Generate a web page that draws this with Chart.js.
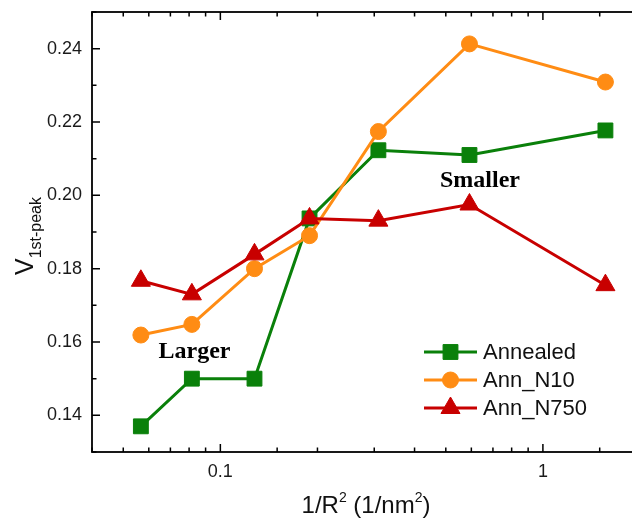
<!DOCTYPE html>
<html>
<head>
<meta charset="utf-8">
<script src="https://cdn.jsdelivr.net/npm/chart.js@4.4.1/dist/chart.umd.min.js"></script>
<style>
html, body { margin: 0; padding: 0; background: #fff; overflow: hidden; }
#wrap { width: 660px; height: 522px; }
</style>
</head>
<body>
<div id="wrap"><canvas id="chart" width="660" height="522"></canvas></div>
<script>
// data: x = 1/R^2 (1/nm^2)
var invR2    = [0.0567, 0.0816, 0.1276, 0.189, 0.309, 0.592, 1.5625];
var annealed = [0.1370, 0.1500, 0.1500, 0.1937, 0.2123, 0.2110, 0.2177];
var annN10   = [0.1619, 0.1648, 0.1800, 0.1890, 0.2174, 0.2413, 0.2309];
var annN750  = [0.1767, 0.1730, 0.1839, 0.1937, 0.1931, 0.1975, 0.1755];
var seriesNames  = ['Annealed', 'Ann_N10', 'Ann_N750'];
var seriesColors = ['#0a800a', '#ff8c14', '#c80000'];
var seriesStyles = ['rect', 'circle', 'triangle'];
var seriesRadius = [10.5, 8, 11];
var yTickLabels  = ['0.14', '0.16', '0.18', '0.20', '0.22', '0.24'];
var xTickLabels  = ['0.1', '1'];

var SANS = '"Liberation Sans", Arial, sans-serif';
var SERIF = '"Liberation Serif", "Times New Roman", serif';

function toPoints(xs, ys) {
    return xs.map(function(x, i){ return {x: x, y: ys[i]}; });
}

function makeSet(i, ys, order) {
    return {
        label: seriesNames[i],
        data: toPoints(invR2, ys),
        showLine: true,
        borderColor: seriesColors[i],
        backgroundColor: seriesColors[i],
        borderWidth: 3,
        pointStyle: seriesStyles[i],
        pointRadius: seriesRadius[i],
        pointBorderWidth: 1,
        pointBorderColor: seriesColors[i],
        pointBackgroundColor: seriesColors[i],
        order: order
    };
}

function isDecade(v) {
    var l = Math.log10(v);
    return Math.abs(l - Math.round(l)) < 1e-6;
}

function yLabel(v) {
    var s = v.toFixed(2);
    return yTickLabels.indexOf(s) >= 0 ? s : '';
}

function noPad(s) {
    s.paddingTop = 0; s.paddingBottom = 0;
    s.paddingLeft = 0; s.paddingRight = 0;
}

// frame + inward ticks on all four sides
var framePlugin = {
    id: 'frame',
    beforeDatasetsDraw: function(chart) {
        var ctx = chart.ctx, a = chart.chartArea;
        var sx = chart.scales.x, sy = chart.scales.y;
        ctx.save();
        ctx.strokeStyle = '#000';
        ctx.lineWidth = 1.8;
        ctx.strokeRect(a.left, a.top, a.right - a.left, a.bottom - a.top);
        ctx.lineWidth = 1.5;
        ctx.beginPath();
        sx.ticks.forEach(function(t) {
            var px = sx.getPixelForValue(t.value);
            var len = isDecade(t.value) ? 8 : 4.5;
            ctx.moveTo(px, a.bottom); ctx.lineTo(px, a.bottom - len);
            ctx.moveTo(px, a.top);    ctx.lineTo(px, a.top + len);
        });
        sy.ticks.forEach(function(t) {
            var py = sy.getPixelForValue(t.value);
            var len = yLabel(t.value) !== '' ? 8 : 4.5;
            ctx.moveTo(a.left, py);  ctx.lineTo(a.left + len, py);
            ctx.moveTo(a.right, py); ctx.lineTo(a.right - len, py);
        });
        ctx.stroke();
        ctx.restore();
    }
};

// axis titles, legend and the two notes
var textPlugin = {
    id: 'texts',
    afterDraw: function(chart) {
        var ctx = chart.ctx, a = chart.chartArea;
        ctx.save();
        ctx.fillStyle = '#111';
        ctx.textBaseline = 'alphabetic';

        // x title: 1/R^2 (1/nm^2)
        var parts = [['1/R', 24, 0], ['2', 14, -11], [' (1/nm', 24, 0], ['2', 14, -11], [')', 24, 0]];
        var w = 0;
        parts.forEach(function(p){ ctx.font = p[1] + 'px ' + SANS; w += ctx.measureText(p[0]).width; });
        var x = (a.left + a.right) / 2 - w / 2, base = 513;
        ctx.textAlign = 'left';
        parts.forEach(function(p){
            ctx.font = p[1] + 'px ' + SANS;
            ctx.fillText(p[0], x, base + p[2]);
            x += ctx.measureText(p[0]).width;
        });

        // y title: V_1st-peak
        ctx.save();
        ctx.translate(33, 236);
        ctx.rotate(-Math.PI / 2);
        ctx.font = '25px ' + SANS;
        var wV = ctx.measureText('V').width;
        ctx.font = '16px ' + SANS;
        var wS = ctx.measureText('1st-peak').width;
        var tx = -(wV + wS) / 2;
        ctx.font = '25px ' + SANS;
        ctx.fillText('V', tx, 0);
        ctx.font = '16px ' + SANS;
        ctx.fillText('1st-peak', tx + wV, 8);
        ctx.restore();

        // notes
        ctx.fillStyle = '#000';
        ctx.textAlign = 'center';
        ctx.font = 'bold 24px ' + SERIF;
        ctx.fillText('Larger', 194.5, 357.5);
        ctx.fillText('Smaller', 480, 186.5);

        // legend
        var rows = [352, 380, 408];
        chart.data.datasets.forEach(function(ds, i) {
            var y = rows[i];
            ctx.strokeStyle = ds.borderColor;
            ctx.fillStyle = ds.backgroundColor;
            ctx.lineWidth = 3;
            ctx.beginPath();
            ctx.moveTo(424, y); ctx.lineTo(477, y);
            ctx.stroke();
            ctx.lineWidth = 1;
            Chart.helpers.drawPoint(ctx, {pointStyle: ds.pointStyle, radius: ds.pointRadius, borderWidth: 1, rotation: 0}, 450.5, y);
            ctx.fillStyle = '#111';
            ctx.textAlign = 'left';
            ctx.textBaseline = 'middle';
            ctx.font = '22px ' + SANS;
            ctx.fillText(ds.label, 483, y + 1);
        });
        ctx.restore();
    }
};

var chart = new Chart(document.getElementById('chart').getContext('2d'), {
    type: 'scatter',
    data: {
        datasets: [
            makeSet(0, annealed, 3),
            makeSet(1, annN10, 2),
            makeSet(2, annN750, 1)
        ]
    },
    options: {
        responsive: false,
        animation: false,
        layout: { padding: { left: 0, top: 11, right: 20, bottom: 0 } },
        plugins: { legend: { display: false }, tooltip: { enabled: false } },
        scales: {
            x: {
                type: 'logarithmic',
                min: 0.04,
                max: 2,
                grid: { display: false, drawTicks: false },
                border: { display: false },
                ticks: {
                    autoSkip: false,
                    maxRotation: 0,
                    padding: 9,
                    color: '#1a1a1a',
                    font: { family: SANS, size: 18 },
                    callback: function(v) {
                        var s = String(Number(v));
                        return isDecade(v) && xTickLabels.indexOf(s) >= 0 ? s : '';
                    }
                },
                afterFit: function(s) { s.height = 70; noPad(s); }
            },
            y: {
                min: 0.13,
                max: 0.25,
                grid: { display: false, drawTicks: false },
                border: { display: false },
                ticks: {
                    stepSize: 0.01,
                    autoSkip: false,
                    padding: 10,
                    color: '#1a1a1a',
                    font: { family: SANS, size: 18 },
                    callback: function(v) { return yLabel(v); }
                },
                afterFit: function(s) { s.width = 92; noPad(s); }
            }
        }
    },
    plugins: [framePlugin, textPlugin]
});
</script>
</body>
</html>
